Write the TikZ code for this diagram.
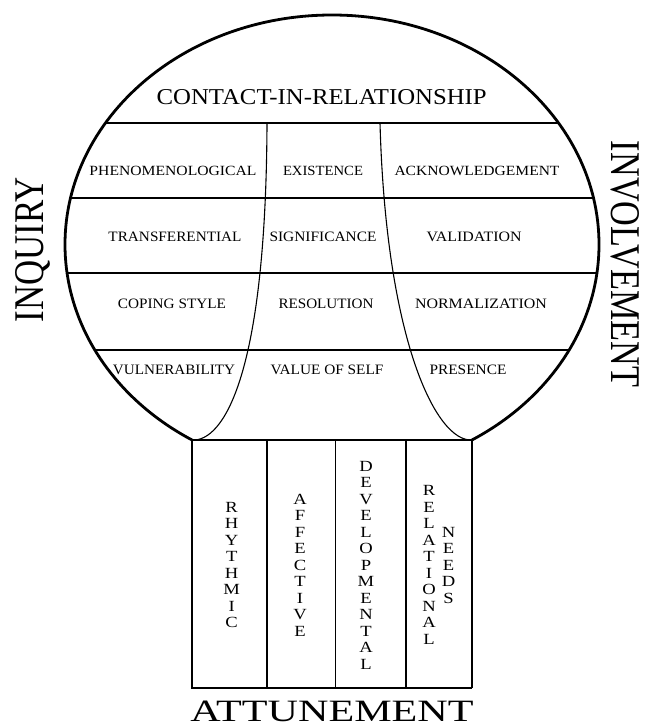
\documentclass[tikz,border=0pt]{standalone}
\usepackage{graphicx}
\usepackage{fontspec}
\setmainfont{Liberation Serif}
\newcommand{\fitto}[3]{\resizebox{#1}{#2}{#3}}
\tikzset{
  outline/.style={line width=2.8pt, line join=miter},
  rule/.style={line width=1.3pt},
  curveline/.style={line width=1.1pt},
  label/.style={inner sep=0pt, anchor=center},
  stackword/.style={inner sep=0pt, anchor=center, align=center, xscale=1.2, transform shape, font=\fontsize{15.5}{16.5}\selectfont},
}
\begin{document}
\begin{tikzpicture}[x=1pt,y=-1pt]
\useasboundingbox (0,0) rectangle (645,728);
\coordinate (BL) at (192,440);
\coordinate (BR) at (472,440);
\coordinate (SBL) at (192,688);
\coordinate (SBR) at (472,688);
\coordinate (TL) at (267,123);
\coordinate (TR) at (380,123);
% balloon outline
\begin{scope}
  \clip (0,0) rectangle (645,440);
  \draw[outline] (332,244.5) ellipse [x radius=267pt, y radius=229.5pt];
\end{scope}
% horizontal rules inside the balloon
\begin{scope}
  \clip (332,244.5) ellipse [x radius=267pt, y radius=229.5pt];
  \foreach \yy in {123,198,273,350} \draw[rule] (0,\yy) -- (645,\yy);
\end{scope}
% inner curves
\draw[curveline] (TL) .. controls (266,380) and (222,442) .. (BL);
\draw[curveline] (TR) .. controls (386,340) and (436,442) .. (BR);
% stem
\draw[rule] (BL) -- (BR);
\draw[outline] (BL) -- (SBL) -- (SBR);
\draw[line width=2.2pt] (SBR) -- (BR);
\foreach \xx in {267,335.5,406} \draw[rule] (\xx,440) -- (\xx,688);
% texts
\node[label] (contact) at (321.7,97.5) {\fitto{330pt}{15pt}{CONTACT-IN-RELATIONSHIP}};
\node[label] (phen) at (173,171.2) {\fitto{167pt}{9.3pt}{PHENOMENOLOGICAL}};
\node[label] (exist) at (323,171.2) {\fitto{80pt}{9.3pt}{EXISTENCE}};
\node[label] (ackn) at (477,171.2) {\fitto{165pt}{9.3pt}{ACKNOWLEDGEMENT}};
\node[label] (trans) at (175,236.7) {\fitto{133pt}{9.5pt}{TRANSFERENTIAL}};
\node[label] (signif) at (323,236.7) {\fitto{107pt}{9.5pt}{SIGNIFICANCE}};
\node[label] (valid) at (474,236.7) {\fitto{95pt}{9.5pt}{VALIDATION}};
\node[label] (coping) at (172,303.5) {\fitto{108pt}{9.5pt}{COPING STYLE}};
\node[label] (resol) at (326,303.5) {\fitto{95pt}{9.5pt}{RESOLUTION}};
\node[label] (norm) at (481,303.5) {\fitto{132pt}{9.5pt}{NORMALIZATION}};
\node[label] (vuln) at (174,370) {\fitto{122pt}{9.5pt}{VULNERABILITY}};
\node[label] (value) at (327,370) {\fitto{113pt}{9.5pt}{VALUE OF SELF}};
\node[label] (pres) at (468,370) {\fitto{77pt}{9.5pt}{PRESENCE}};
% side labels
\node[inner sep=0pt, rotate=90, anchor=base] (inquiry) at (43,249.5) {\fitto{145pt}{28pt}{INQUIRY}};
\node[inner sep=0pt, rotate=-90, anchor=base] (involve) at (611,264) {\fitto{246pt}{28pt}{INVOLVEMENT}};
\node[inner sep=0pt, anchor=base] (attune) at (332,721) {\fitto{283pt}{20.5pt}{ATTUNEMENT}};
% stem words
\node[stackword] (rhythmic) at (231.7,565) {R\\H\\Y\\T\\H\\M\\I\\C};
\node[stackword] (affective) at (300,565) {A\\F\\F\\E\\C\\T\\I\\V\\E};
\node[stackword] (devel) at (366,565) {D\\E\\V\\E\\L\\O\\P\\M\\E\\N\\T\\A\\L};
\node[stackword] (relational) at (429,565) {R\\E\\L\\A\\T\\I\\O\\N\\A\\L};
\node[stackword] (needs) at (448.5,565) {N\\E\\E\\D\\S};
\end{tikzpicture}
\end{document}
